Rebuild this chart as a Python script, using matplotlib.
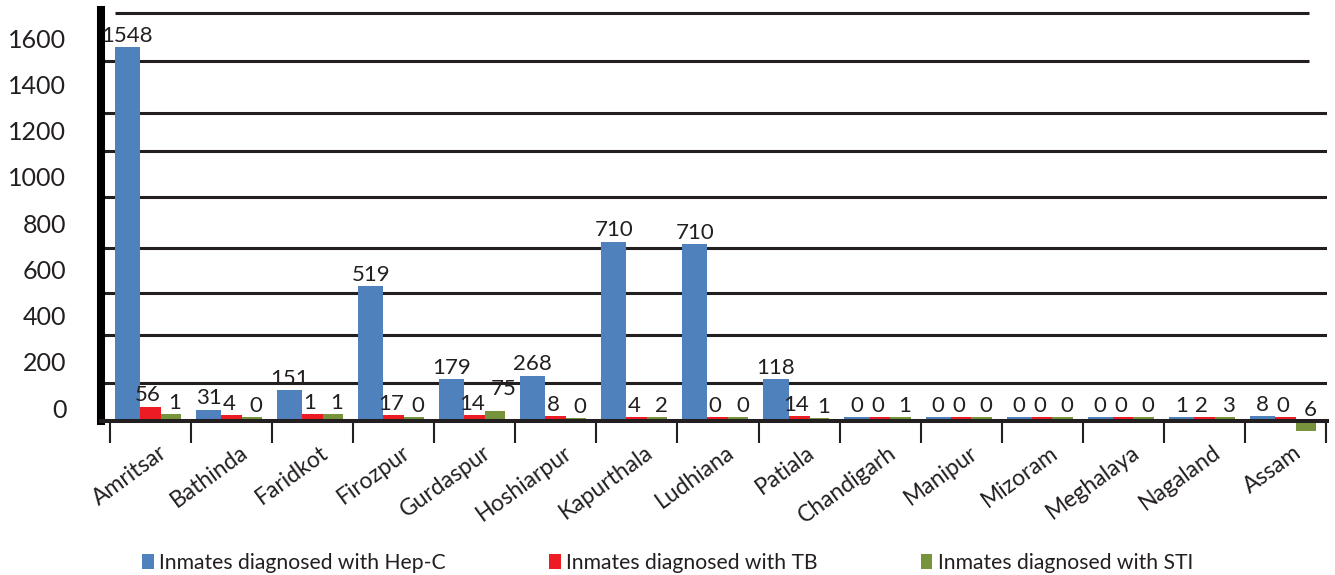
import matplotlib
matplotlib.use('Agg')
import matplotlib.pyplot as plt
import matplotlib.transforms as mtransforms
import numpy as np

plt.rcParams['font.family'] = ['Lato', 'DejaVu Sans']

# categories and series (bar heights as drawn, labels as printed)
districts = ['Amritsar', 'Bathinda', 'Faridkot', 'Firozpur', 'Gurdaspur',
             'Hoshiarpur', 'Kapurthala', 'Ludhiana', 'Patiala', 'Chandigarh',
             'Manipur', 'Mizoram', 'Meghalaya', 'Nagaland', 'Assam']

hepc_heights = [1617, 48, 134, 584, 182, 195, 775, 765, 182, 17, 17, 17, 17, 17, 22]
tb_heights = [62, 26, 30, 26, 26, 22, 17, 17, 22, 17, 17, 17, 17, 17, 17]
sti_heights = [30, 17, 30, 17, 45, 13, 17, 17, 13, 17, 17, 17, 17, 17, -45]

hepc_labels = ['1548', '31', '151', '519', '179', '268', '710', '710', '118',
               '0', '0', '0', '0', '1', '8']
tb_labels = ['56', '4', '1', '17', '14', '8', '4', '0', '14',
             '0', '0', '0', '0', '2', '0']
sti_labels = ['1', '0', '1', '0', '75', '0', '2', '0', '1',
              '1', '0', '0', '0', '3', '6']

series_names = ['Inmates diagnosed with Hep-C', 'Inmates diagnosed with TB',
                'Inmates diagnosed with STI']

ytick_labels = ['0', '200', '400', '600', '800', '1000', '1200', '1400', '1600']

# layout (not data)
ytick_pos = [56 + 200 * k for k in range(len(ytick_labels))]
grid_y = [163, 372, 552, 747, 967, 1166, 1330, 1555, 1763]
dark = '#231f20'
colors = ['#4f81bd', '#ed1c24', '#77933c']
offsets = [-0.285, 0.0, 0.25]
widths = [0.31, 0.26, 0.25]
label_dx = [0, -2, 3]          # points, per series
nudges = {(2, 4): (3, 7)}      # (series, category) -> extra (dx, dy) points

fig = plt.figure(figsize=(13.35, 5.75), dpi=100)
ax = fig.add_axes([101 / 1335, 1 - 433 / 575, 1226 / 1335, 425 / 575])

x = np.arange(len(districts))

# gridlines
for gy in grid_y:
    if gy > 1700:
        ax.hlines(gy, -0.438, 14.29, color=dark, lw=2.2, zorder=1)
    elif gy > 1500:
        ax.hlines(gy, -0.599, 14.29, color=dark, lw=2.2, zorder=1)
    else:
        ax.hlines(gy, -0.599, 14.51, color=dark, lw=2.2, zorder=1)

bars = []
for s, (heights, labels, off, w, c, name) in enumerate(zip(
        [hepc_heights, tb_heights, sti_heights],
        [hepc_labels, tb_labels, sti_labels],
        offsets, widths, colors, series_names)):
    b = ax.bar(x + off, heights, width=w, color=c, label=name, zorder=2)
    bars.append(b)
    for i, (xi, h, lab) in enumerate(zip(x + off, heights, labels)):
        ndx, ndy = nudges.get((s, i), (0, 0))
        ax.annotate(lab, (xi, max(h, 0)),
                    xytext=(label_dx[s] + ndx, 1 + ndy),
                    textcoords='offset points', ha='center', va='bottom',
                    fontsize=16, color=dark, zorder=3)

ax.set_xlim(-0.611, 14.512)
ax.set_ylim(-52, 1786)

# spines
ax.spines['top'].set_visible(False)
ax.spines['right'].set_visible(False)
ax.spines['left'].set_linewidth(5.8)
ax.spines['left'].set_color('black')
ax.spines['left'].set_bounds(0, 1777)
ax.spines['bottom'].set_position(('data', 0))
ax.spines['bottom'].set_linewidth(2.9)
ax.spines['bottom'].set_color(dark)
ax.spines['bottom'].set_zorder(4)

ax.set_yticks(ytick_pos, ytick_labels)
ax.tick_params(axis='y', length=0, pad=25, labelsize=18, labelcolor=dark)

ax.set_xticks(x)
ax.set_xticklabels(districts, rotation=36, ha='right',
                   rotation_mode='anchor')
ax.set_xticks(np.arange(-0.5, 15, 1), minor=True)
ax.tick_params(axis='x', which='major', length=0, pad=15, labelsize=16.5,
               labelcolor=dark)
ax.tick_params(axis='x', which='minor', length=15.8, width=1.5,
               direction='out', color=dark)

shift = mtransforms.ScaledTranslation(7.5 / 100, 0, fig.dpi_scale_trans)
for lbl in ax.get_xticklabels():
    lbl.set_transform(lbl.get_transform() + shift)

leg = fig.legend(handles=bars, loc='center', bbox_to_anchor=(0.5, 0.021),
                 ncol=3, frameon=False, fontsize=15.2, handlelength=0.55,
                 handleheight=0.75, handletextpad=0.25, columnspacing=4.9)
for t in leg.get_texts():
    t.set_color(dark)

fig.savefig('out.png', dpi=100)
